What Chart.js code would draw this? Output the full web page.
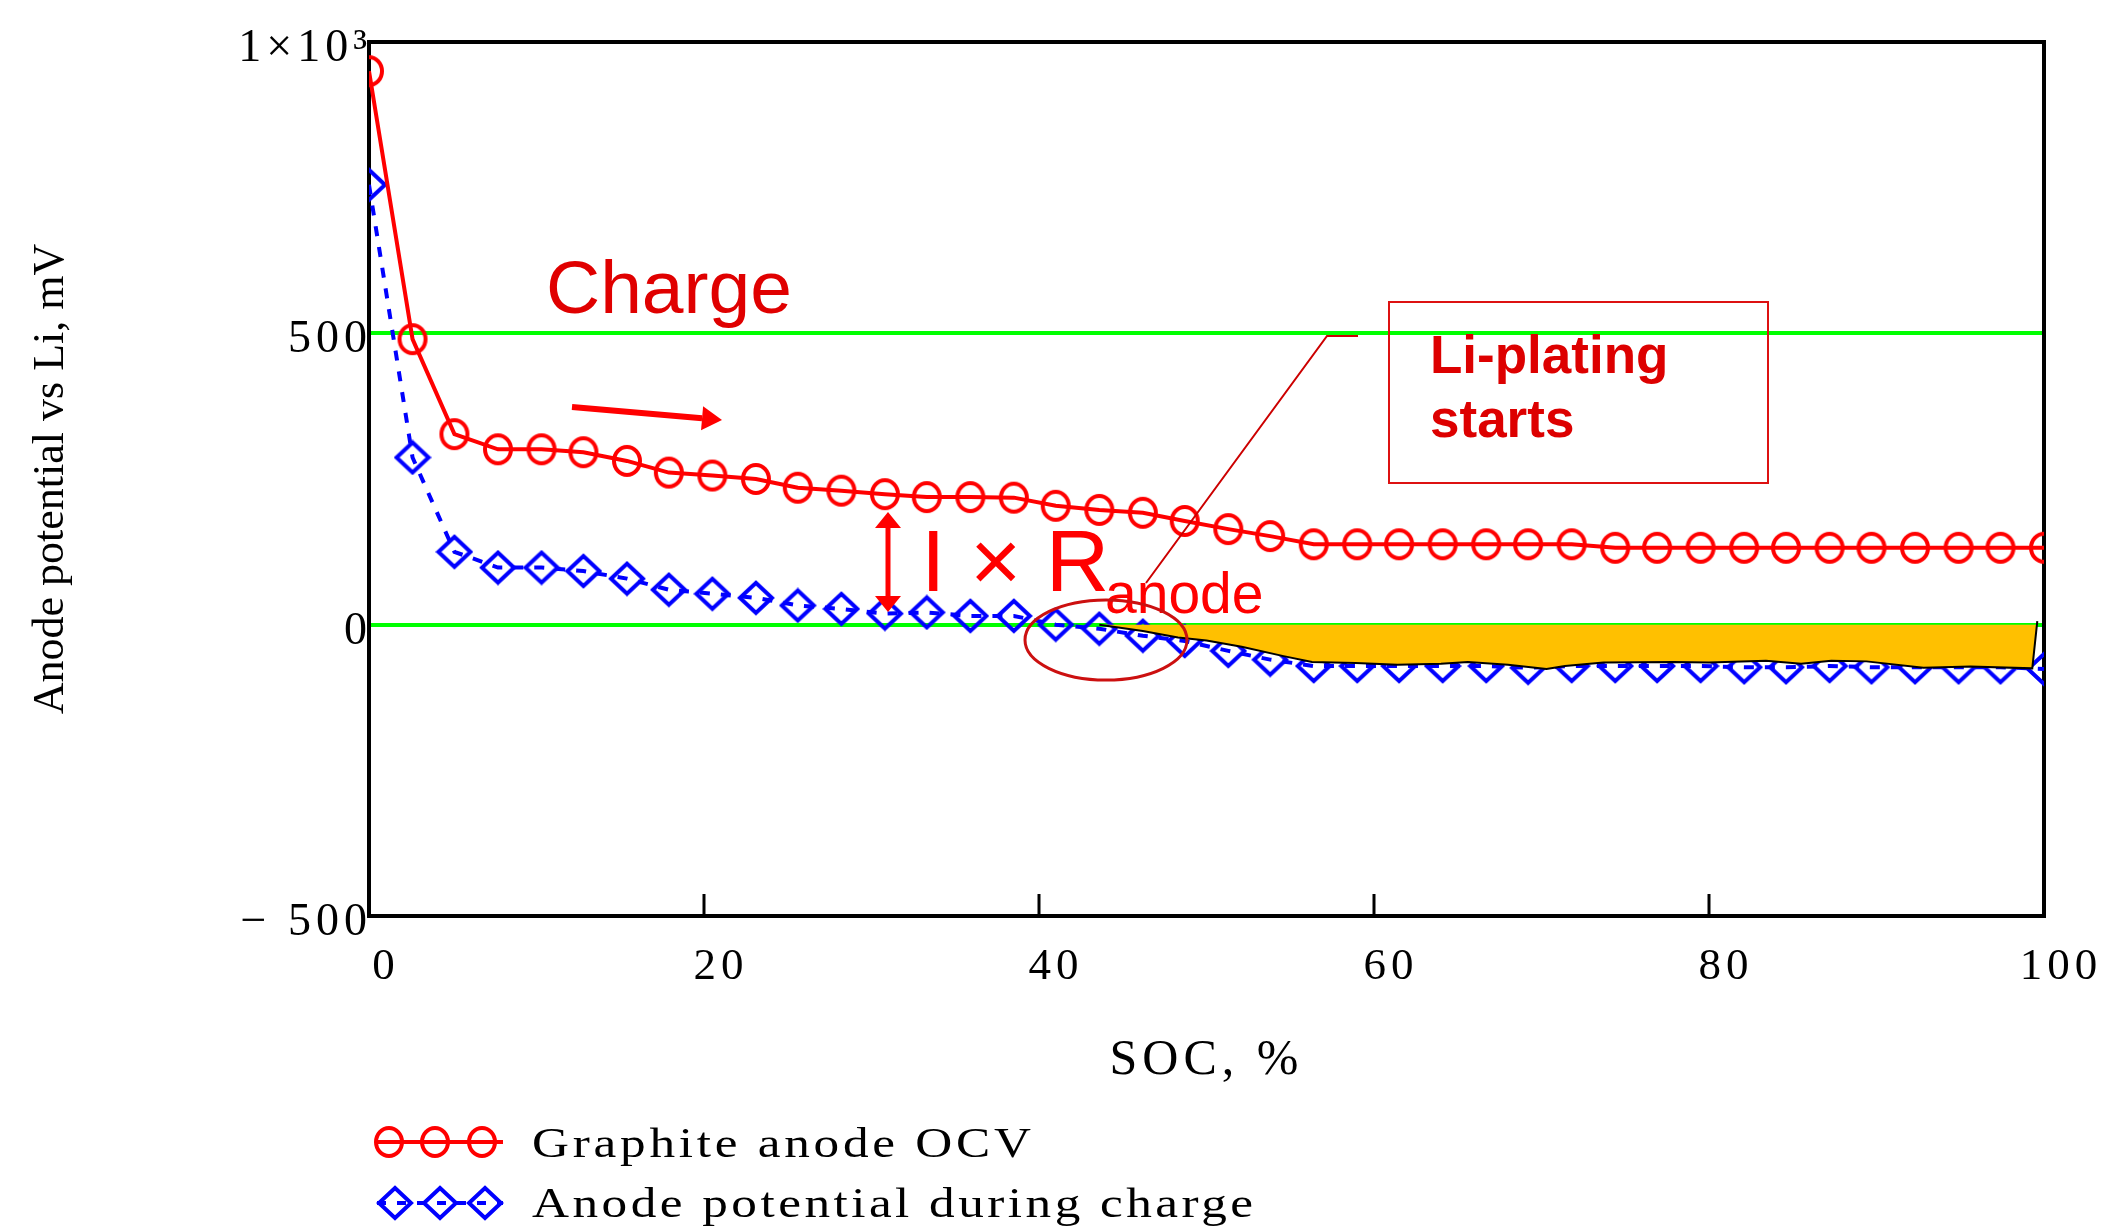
<!DOCTYPE html>
<html><head><meta charset="utf-8">
<script src="https://cdn.jsdelivr.net/npm/chart.js@4.4.1/dist/chart.umd.min.js"></script>
<style>html,body{margin:0;padding:0;background:#fff;}canvas{display:block;}</style>
</head><body>
<canvas id="c" width="2113" height="1226"></canvas>
<script>
// ---- data ----
const socPercent = [0,2.6,5.1,7.7,10.3,12.8,15.4,17.9,20.5,23.1,25.6,28.2,30.8,33.3,35.9,38.5,41.0,43.6,46.2,48.7,51.3,53.8,56.4,59.0,61.5,64.1,66.7,69.2,71.8,74.4,76.9,79.5,82.1,84.6,87.2,89.7,92.3,94.9,97.4,100];
const graphiteOCV = [950,490,327,301,301,296,281,261,256,250,235,230,224,219,219,218,204,197,192,178,164,152,138,138,138,138,138,138,138,132,132,132,132,132,132,132,132,132,132,132];
const anodeDuringCharge = [755,287,125,98,98,92,79,60,53,46,33,27,19,21,15,15,0,-7,-19,-28,-45,-60,-71,-71,-71,-71,-71,-74,-71,-71,-71,-71,-73,-73,-71,-73,-73,-73,-73,-76];
const platingSOC = [43.6,46.2,48.3,50.0,52.1,54.6,56.3,58.9,61.4,64.0,65.6,68.0,70.3,71.4,73.7,77.9,80.0,83.4,85.5,87.3,89.4,92.8,95.6,99.3,99.6];
const platingPotential = [0,-11,-22,-27,-38,-54,-64,-66,-69,-67,-64,-69,-76,-71,-65,-64,-65,-62,-67,-62,-63,-74,-72,-75,6];
const xTickValues = [0,20,40,60,80,100];
const yTickValues = [-500,0,500,1000];
const yTickText = ['\u2212 500','0','500','1\u00d710\u00b3'];
const seriesNames = ['Graphite anode OCV','Anode potential during charge'];

const ocvPts = socPercent.map((x,i)=>({x, y: graphiteOCV[i]}));
const anodePts = socPercent.map((x,i)=>({x, y: anodeDuringCharge[i]}));
const platingPts = platingSOC.map((x,i)=>({x, y: platingPotential[i]}));

function makeCircle(){ const c=document.createElement('canvas'); c.width=34;c.height=36; const g=c.getContext('2d'); g.strokeStyle='#ff0000'; g.lineWidth=4; g.beginPath(); g.ellipse(17,18,13,14,0,0,Math.PI*2); g.stroke(); return c; }
function makeDiamond(){ const c=document.createElement('canvas'); c.width=38;c.height=36; const g=c.getContext('2d'); g.strokeStyle='#0000ff'; g.lineWidth=4; g.beginPath(); g.moveTo(19,3); g.lineTo(35,18); g.lineTo(19,33); g.lineTo(3,18); g.closePath(); g.stroke(); return c; }
const circleImg = makeCircle(), diamondImg = makeDiamond();

function arrowHead(ctx,x1,y1,x2,y2,len,wid){
  const a=Math.atan2(y2-y1,x2-x1), bx=x2-len*Math.cos(a), by=y2-len*Math.sin(a);
  ctx.beginPath(); ctx.moveTo(x2,y2);
  ctx.lineTo(bx+wid/2*Math.sin(a), by-wid/2*Math.cos(a));
  ctx.lineTo(bx-wid/2*Math.sin(a), by+wid/2*Math.cos(a));
  ctx.closePath(); ctx.fill();
  return [bx,by];
}
// draw text stretched horizontally by sx, then letter-spaced to fill the given width
function fitText(ctx,text,x,y,width,sx){
  ctx.save();
  ctx.letterSpacing='0px';
  const w=ctx.measureText(text).width*sx;
  const ls=(width-w)/(text.length-1)/sx;
  ctx.letterSpacing=Math.max(0,ls)+'px';
  ctx.translate(x,y); ctx.scale(sx,1);
  ctx.fillText(text,0,0);
  ctx.restore();
}

const deco = {
  id:'deco',
  beforeDraw(chart){ const c=chart.ctx; c.save(); c.fillStyle='#fff'; c.fillRect(0,0,chart.width,chart.height); c.restore(); },
  beforeDatasetsDraw(chart){
    const {ctx,chartArea:a}=chart;
    ctx.save(); ctx.strokeStyle='#000'; ctx.lineWidth=4;
    ctx.strokeRect(a.left,a.top,a.right-a.left,a.bottom-a.top); ctx.restore();
  },
  afterDatasetsDraw(chart){
    const {ctx,chartArea:a,scales:{x}}=chart;
    ctx.save(); ctx.strokeStyle='#000'; ctx.lineWidth=3;
    for(const v of xTickValues){ if(v===0||v===100) continue; const px=x.getPixelForValue(v);
      ctx.beginPath(); ctx.moveTo(px,a.bottom); ctx.lineTo(px,a.bottom-22); ctx.stroke(); }
    ctx.restore();
    ctx.letterSpacing='5px';
  },
  afterDraw(chart){
    const ctx=chart.ctx;
    ctx.letterSpacing='0px';
    ctx.save();
    ctx.textAlign='left'; ctx.textBaseline='alphabetic';
    // "Charge" + arrow
    ctx.fillStyle='#e00000'; ctx.font='75px "Liberation Sans", Arial, sans-serif';
    ctx.fillText('Charge',546,313);
    ctx.strokeStyle='#ff0000'; ctx.fillStyle='#ff0000'; ctx.lineWidth=6;
    let b=arrowHead(ctx,572,407,722,420,20,24);
    ctx.beginPath(); ctx.moveTo(572,407); ctx.lineTo(b[0],b[1]); ctx.stroke();
    // I x R double arrow
    ctx.lineWidth=5;
    const t=arrowHead(ctx,888,562,888,512,16,26), u=arrowHead(ctx,888,562,888,612,16,26);
    ctx.beginPath(); ctx.moveTo(t[0],t[1]); ctx.lineTo(u[0],u[1]); ctx.stroke();
    ctx.font='88px "Liberation Sans", Arial, sans-serif';
    ctx.fillText('I \u00d7 R',921,591);
    ctx.font='57px "Liberation Sans", Arial, sans-serif';
    ctx.fillText('anode',1105,613);
    // ellipse + callout
    ctx.strokeStyle='#cc1010'; ctx.lineWidth=3;
    ctx.beginPath(); ctx.ellipse(1106,640,81,40,0,0,Math.PI*2); ctx.stroke();
    ctx.strokeStyle='#cc0000'; ctx.lineWidth=2;
    ctx.beginPath(); ctx.moveTo(1146,583); ctx.lineTo(1327,336); ctx.lineTo(1358,336); ctx.stroke();
    ctx.strokeStyle='#dd1111'; ctx.lineWidth=2;
    ctx.strokeRect(1389,302,379,181);
    ctx.fillStyle='#dd0000'; ctx.font='bold 53px "Liberation Sans", Arial, sans-serif';
    ctx.fillText('Li-plating',1430,373);
    ctx.fillText('starts',1430,437);
    // legend
    ctx.strokeStyle='#ff0000'; ctx.lineWidth=4;
    ctx.beginPath(); ctx.moveTo(377,1142); ctx.lineTo(503,1142); ctx.stroke();
    for(const cx of [389,435,482]) ctx.drawImage(circleImg,cx-circleImg.width/2,1142-circleImg.height/2);
    ctx.strokeStyle='#0000ff'; ctx.setLineDash([9,11]);
    ctx.beginPath(); ctx.moveTo(377,1203); ctx.lineTo(503,1203); ctx.stroke(); ctx.setLineDash([]);
    for(const cx of [395,440,485]) ctx.drawImage(diamondImg,cx-diamondImg.width/2,1203-diamondImg.height/2);
    ctx.fillStyle='#000'; ctx.font='42px "Liberation Serif", "Times New Roman", serif';
    fitText(ctx,seriesNames[0],532,1157,499,1.22);
    fitText(ctx,seriesNames[1],532,1217,721,1.22);
    ctx.restore();
  }
};

const serif='"Liberation Serif", "Times New Roman", serif';
new Chart(document.getElementById('c'),{
  type:'line',
  data:{datasets:[
    {label:'Li-plating region',data:platingPts,fill:'origin',backgroundColor:'#FFC000',borderColor:'#000',borderWidth:2,pointRadius:0,tension:0,order:0},
    {label:seriesNames[0],data:ocvPts,borderColor:'#ff0000',borderWidth:4,pointStyle:circleImg,pointRadius:15,tension:0,fill:false,order:1},
    {label:seriesNames[1],data:anodePts,borderColor:'#0000ff',borderWidth:4,borderDash:[10,11],pointStyle:diamondImg,pointRadius:15,tension:0,fill:false,order:2}
  ]},
  options:{
    responsive:false, devicePixelRatio:1, animation:false, events:[],
    layout:{padding:{left:0,right:69,top:42,bottom:0}},
    plugins:{legend:{display:false},tooltip:{enabled:false}},
    scales:{
      x:{type:'linear',min:0,max:100,
        afterBuildTicks(s){ s.ticks=xTickValues.map(v=>({value:v})); },
        afterFit(s){ s.height=310; },
        grid:{display:false,z:1},
        border:{display:false},
        ticks:{z:1,padding:16,labelOffset:17,color:'#000',font:{family:serif,size:45},maxRotation:0,autoSkip:false},
        title:{display:true,text:'SOC, %',color:'#000',font:{family:serif,size:50},padding:{top:0,bottom:135}}
      },
      y:{type:'linear',min:-500,max:1000,
        afterBuildTicks(s){ s.ticks=yTickValues.map(v=>({value:v})); },
        afterFit(s){ s.width=369; },
        grid:{drawTicks:false,lineWidth:4,color:(c)=>(c.tick&&(c.tick.value===0||c.tick.value===500))?'#00ff00':'rgba(0,0,0,0)'},
        border:{display:false},
        ticks:{z:1,padding:-3,labelOffset:7,color:'#000',font:{family:serif,size:46},
          callback:(v)=>{const i=yTickValues.indexOf(v);return i>=0?yTickText[i]:'';}},
        title:{display:true,text:'Anode potential vs Li, mV',color:'#000',font:{family:serif,size:44},padding:{top:25,bottom:0}}
      }
    }
  },
  plugins:[deco]
});
</script>
</body></html>
